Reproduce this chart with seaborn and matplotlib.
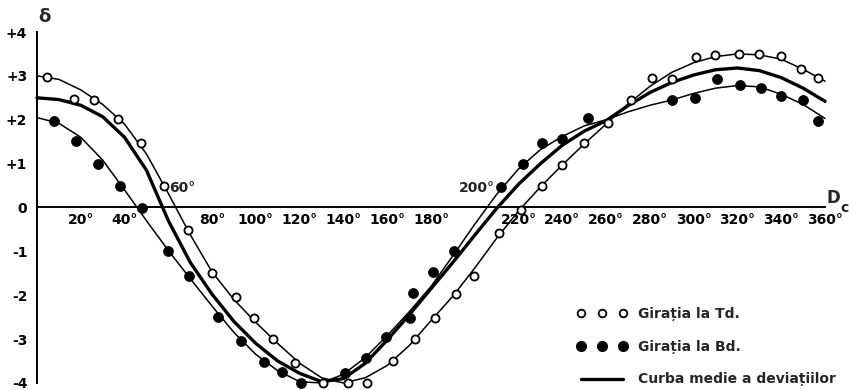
import numpy as np
import pandas as pd
import matplotlib
matplotlib.use("Agg")
import matplotlib.pyplot as plt
import seaborn as sns
from matplotlib.lines import Line2D

# ---- data ----
course_deg = [0, 10, 20, 30, 40, 50, 60, 70, 80, 90, 100, 110, 120, 130, 140, 150, 160, 170, 180,
              190, 200, 210, 220, 230, 240, 250, 260, 270, 280, 290, 300, 310, 320, 330, 340, 350, 360]
td_curve = [3.0, 2.92, 2.68, 2.35, 1.9, 1.22, 0.32, -0.62, -1.47, -2.1, -2.62, -3.1, -3.55, -3.88, -4.0,
            -3.88, -3.6, -3.15, -2.58, -2.02, -1.38, -0.7, -0.08, 0.47, 0.97, 1.45, 1.9, 2.36, 2.76,
            3.08, 3.3, 3.44, 3.5, 3.48, 3.38, 3.15, 2.88]
mean_curve = [2.5, 2.46, 2.33, 2.07, 1.6, 0.85, -0.3, -1.25, -1.98, -2.6, -3.1, -3.5, -3.78, -3.97, -3.9,
              -3.55, -3.02, -2.45, -1.85, -1.25, -0.63, -0.02, 0.53, 1.0, 1.42, 1.74, 1.98, 2.32, 2.62,
              2.85, 3.02, 3.14, 3.18, 3.12, 2.96, 2.72, 2.42]
bd_curve = [2.05, 1.92, 1.6, 1.08, 0.4, -0.3, -0.98, -1.62, -2.25, -2.85, -3.35, -3.72, -3.97, -4.0, -3.8,
            -3.42, -2.92, -2.38, -1.8, -1.1, -0.38, 0.3, 0.88, 1.32, 1.62, 1.86, 2.0, 2.18, 2.33,
            2.45, 2.6, 2.72, 2.78, 2.75, 2.58, 2.35, 2.03]

td_x = [4.6, 17, 26, 37, 47.5, 58, 69, 80, 91, 99, 108, 118, 130.6, 142, 150.7, 162.6, 172.6, 182,
        191.4, 199.5, 211, 221, 230.6, 240, 250, 261, 271.5, 281, 290, 301, 309.6, 320.5, 330, 340, 349, 357]
td_y = [2.98, 2.47, 2.45, 2.02, 1.46, 0.48, -0.52, -1.5, -2.05, -2.52, -2.99, -3.55, -4.0, -4.0, -4.0,
        -3.5, -3.0, -2.52, -1.98, -1.55, -0.57, -0.05, 0.48, 0.96, 1.48, 1.92, 2.46, 2.95, 2.93, 3.43,
        3.47, 3.5, 3.5, 3.45, 3.16, 2.96]
bd_x = [7.7, 18, 27.7, 38, 48, 60, 69.4, 82.6, 93, 103.5, 112, 120.7, 140.6, 150.3, 159.4, 170.3, 171.6,
        181, 190.7, 212, 222, 230.6, 240, 251.8, 290, 300.5, 310.8, 321, 330.6, 340, 349.8, 357]
bd_y = [1.98, 1.52, 1.0, 0.5, -0.02, -1.0, -1.57, -2.5, -3.04, -3.52, -3.76, -4.01, -3.77, -3.44, -2.95,
        -2.52, -1.95, -1.46, -1.0, 0.46, 1.0, 1.48, 1.55, 2.04, 2.45, 2.5, 2.94, 2.8, 2.73, 2.53, 2.44, 1.98]

x_ticks = [20, 40, 60, 80, 100, 120, 140, 160, 180, 200, 220, 240, 260, 280, 300, 320, 340, 360]
y_ticks = [-4, -3, -2, -1, 0, 1, 2, 3, 4]
y_tick_labels = ["-4", "-3", "-2", "-1", "0", "+1", "+2", "+3", "+4"]
legend_labels = ["Girația la Td.", "Girația la Bd.", "Curba medie a deviațiilor"]

# ---- plot ----
sns.set_style("white")
plt.rcParams["font.family"] = ["DejaVu Sans"]

W, H = 858, 390
fig = plt.figure(figsize=(W / 100, H / 100), dpi=100)
ax = fig.add_axes([37 / W, 1 - 383 / H, 788 / W, 351 / H])

curves = pd.DataFrame({"deg": course_deg, "td": td_curve, "mean": mean_curve, "bd": bd_curve})
sns.lineplot(data=curves, x="deg", y="td", ax=ax, color="black", lw=1.1, clip_on=False)
sns.lineplot(data=curves, x="deg", y="bd", ax=ax, color="black", lw=1.1, clip_on=False)
sns.lineplot(data=curves, x="deg", y="mean", ax=ax, color="black", lw=2.4, clip_on=False)

sns.scatterplot(x=td_x, y=td_y, ax=ax, marker="o", s=34, facecolor="white", edgecolor="black",
                linewidth=1.3, zorder=4, clip_on=False)
sns.scatterplot(x=bd_x, y=bd_y, ax=ax, marker="o", s=52, color="black", edgecolor="black",
                linewidth=0.5, zorder=4, clip_on=False)

ax.set_xlim(0, 360)
ax.set_ylim(-4, 4)
ax.set_xlabel("")
ax.set_ylabel("")
for s in ["top", "right"]:
    ax.spines[s].set_visible(False)
ax.spines["bottom"].set_position(("data", 0))
ax.spines["left"].set_bounds(-4, 4)
for s in ["bottom", "left"]:
    ax.spines[s].set_linewidth(1.4)
    ax.spines[s].set_color("black")

ax.set_xticks(x_ticks)
ax.set_xticklabels(["" if t in (60, 200) else f"{t}°" for t in x_ticks],
                   fontsize=10, fontweight="bold")
ax.set_xticks([t - 10 for t in x_ticks], minor=True)
ax.tick_params(axis="x", which="major", direction="in", length=6, width=1.2, pad=4, colors="black")
ax.tick_params(axis="x", which="minor", direction="in", length=3.5, width=1.2)
ax.set_yticks(y_ticks)
ax.set_yticklabels(y_tick_labels, fontsize=10, fontweight="bold")
ax.tick_params(axis="y", direction="out", length=5, width=1.2, pad=2, colors="black")

# labels placed above the axis where curves cross
ax.text(60.5, 0.28, "60°", fontsize=10, fontweight="bold", ha="left", va="bottom")
ax.text(201, 0.28, "200°", fontsize=10, fontweight="bold", ha="center", va="bottom")

fig.text(38 / W, 1 - 17 / H, "δ", fontsize=13, fontweight="bold", ha="left", va="center")
fig.text(826 / W, 1 - 198 / H, "D", fontsize=12, fontweight="bold", ha="left", va="center")
fig.text(840 / W, 1 - 208 / H, "c", fontsize=10, fontweight="bold", ha="left", va="center")

handles = [
    Line2D([], [], marker="o", ls="none", mfc="white", mec="black", ms=5.5, mew=1.3),
    Line2D([], [], marker="o", ls="none", mfc="black", mec="black", ms=7),
    Line2D([], [], color="black", lw=2.4),
]
fig.legend(handles, legend_labels, numpoints=3, loc="upper left",
           bbox_to_anchor=(570 / W, 1 - 300 / H), frameon=False, handlelength=3.6,
           handletextpad=0.8, labelspacing=1.35, borderpad=0,
           prop={"size": 10, "weight": "bold"})

fig.savefig("out.png", dpi=100)
